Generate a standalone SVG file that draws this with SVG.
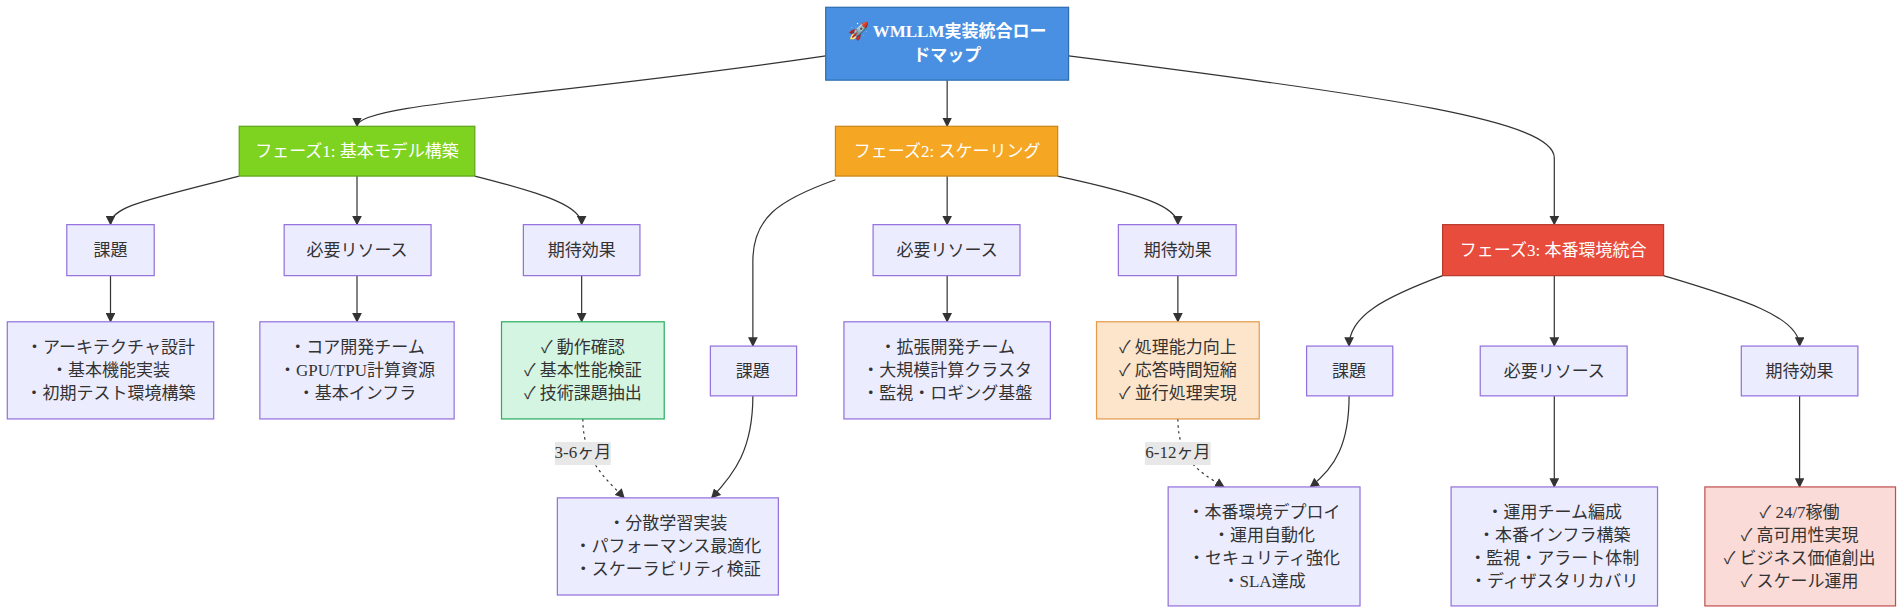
<svg xmlns="http://www.w3.org/2000/svg" width="1904" height="614" viewBox="0 0 1904 614">
<defs>
<marker id="ah" viewBox="0 0 10 10" refX="9" refY="5" markerWidth="8" markerHeight="8" orient="auto"><path d="M0,0L10,5L0,10z" fill="#333"/></marker>
<style>
text{font-family:"Liberation Serif","Noto Sans CJK JP",serif;font-size:14px;fill:#333;text-anchor:middle;dominant-baseline:central}
.n{fill:#ececff;stroke:#9370db;stroke-width:1}
.w{fill:#fff}
.e{fill:none;stroke:#333;stroke-width:1;marker-end:url(#ah)}
.d{stroke-dasharray:2 3}
</style>
</defs>
<rect width="1904" height="614" fill="#fff"/>
<g transform="scale(1.2143)">
<g id="connectors">
<path class="e" d="M680,46 C450,80 294,85 294,104"/>
<path class="e" d="M780,66 L780,104"/>
<path class="e" d="M880,46 C1150,80 1280,100 1280,130 L1280,185"/>
<path class="e" d="M197,145 C120,165 91,170 91,185"/>
<path class="e" d="M294,145 L294,185"/>
<path class="e" d="M391,145 C450,160 479,170 479,185"/>
<path class="e" d="M688,148 C640,165 620,180 620,215 L620,285"/>
<path class="e" d="M780,145 L780,185"/>
<path class="e" d="M871,145 C940,160 970,170 970,185"/>
<path class="e" d="M1188,227 C1140,245 1111,260 1111,285"/>
<path class="e" d="M1280,227 L1280,285"/>
<path class="e" d="M1370,227 C1430,245 1482,260 1482,285"/>
<path class="e" d="M91,227 L91,265"/>
<path class="e" d="M294,227 L294,265"/>
<path class="e" d="M479,227 L479,265"/>
<path class="e" d="M780,227 L780,265"/>
<path class="e" d="M970,227 L970,265"/>
<path class="e" d="M1280,326 L1280,401"/>
<path class="e" d="M1482,326 L1482,401"/>
<path class="e" d="M620,326 C620,370 605,390 586,410"/>
<path class="e" d="M1111,326 C1111,365 1100,385 1079,401"/>
<path class="e d" d="M480,345 C480,380 500,395 514,410"/>
<path class="e d" d="M970,345 C970,380 990,390 1008,401"/>
<rect x="457" y="364" width="46" height="19" fill="#e8e8e8"/><text x="480" y="373">3-6ヶ月</text>
<rect x="943" y="364" width="54" height="19" fill="#e8e8e8"/><text x="970" y="373">6-12ヶ月</text>
</g>
<g id="root"><rect x="680" y="6" width="200" height="60" fill="#4a90e2" stroke="#2c6cb0"/><text class="w" x="780" y="26" font-weight="bold">🚀 WMLLM実装統合ロー</text><text class="w" x="780" y="46" font-weight="bold">ドマップ</text></g>
<g id="p1"><rect x="197" y="104" width="194" height="41" fill="#7ed321" stroke="#5ea318"/><text class="w" x="294" y="125">フェーズ1: 基本モデル構築</text></g>
<g id="p2"><rect x="688" y="104" width="183" height="41" fill="#f5a623" stroke="#c98618"/><text class="w" x="780" y="125">フェーズ2: スケーリング</text></g>
<g id="p3"><rect x="1188" y="185" width="182" height="42" fill="#e74c3c" stroke="#b83a2c"/><text class="w" x="1279" y="206">フェーズ3: 本番環境統合</text></g>
<g id="p1c"><rect class="n" x="55" y="185" width="72" height="42"/><text x="91" y="206">課題</text></g>
<g id="p1r"><rect class="n" x="234" y="185" width="121" height="42"/><text x="294" y="206">必要リソース</text></g>
<g id="p1e"><rect class="n" x="431" y="185" width="96" height="42"/><text x="479" y="206">期待効果</text></g>
<g id="p2r"><rect class="n" x="719" y="185" width="121" height="42"/><text x="780" y="206">必要リソース</text></g>
<g id="p2e"><rect class="n" x="921" y="185" width="97" height="42"/><text x="970" y="206">期待効果</text></g>
<g id="p2c"><rect class="n" x="585" y="285" width="71" height="41"/><text x="620" y="306">課題</text></g>
<g id="p3c"><rect class="n" x="1076" y="285" width="71" height="41"/><text x="1111" y="306">課題</text></g>
<g id="p3r"><rect class="n" x="1219" y="285" width="121" height="41"/><text x="1280" y="306">必要リソース</text></g>
<g id="p3e"><rect class="n" x="1434" y="285" width="96" height="41"/><text x="1482" y="306">期待効果</text></g>
<g id="p1cd"><rect class="n" x="6" y="265" width="170" height="80"/><text x="91" y="286">・アーキテクチャ設計</text><text x="91" y="305">・基本機能実装</text><text x="91" y="324">・初期テスト環境構築</text></g>
<g id="p1rd"><rect class="n" x="214" y="265" width="160" height="80"/><text x="294" y="286">・コア開発チーム</text><text x="294" y="305">・GPU/TPU計算資源</text><text x="294" y="324">・基本インフラ</text></g>
<g id="p1ed"><rect x="413" y="265" width="134" height="80" fill="#d5f5e3" stroke="#27ae60"/><text x="480" y="286">✓ 動作確認</text><text x="480" y="305">✓ 基本性能検証</text><text x="480" y="324">✓ 技術課題抽出</text></g>
<g id="p2rd"><rect class="n" x="695" y="265" width="170" height="80"/><text x="780" y="286">・拡張開発チーム</text><text x="780" y="305">・大規模計算クラスタ</text><text x="780" y="324">・監視・ロギング基盤</text></g>
<g id="p2ed"><rect x="903" y="265" width="134" height="80" fill="#fde5cc" stroke="#e59a4a"/><text x="970" y="286">✓ 処理能力向上</text><text x="970" y="305">✓ 応答時間短縮</text><text x="970" y="324">✓ 並行処理実現</text></g>
<g id="p2cd"><rect class="n" x="459" y="410" width="182" height="80"/><text x="550" y="431">・分散学習実装</text><text x="550" y="450">・パフォーマンス最適化</text><text x="550" y="469">・スケーラビリティ検証</text></g>
<g id="p3cd"><rect class="n" x="962" y="401" width="158" height="98"/><text x="1041" y="422">・本番環境デプロイ</text><text x="1041" y="441">・運用自動化</text><text x="1041" y="460">・セキュリティ強化</text><text x="1041" y="479">・SLA達成</text></g>
<g id="p3rd"><rect class="n" x="1195" y="401" width="170" height="98"/><text x="1280" y="422">・運用チーム編成</text><text x="1280" y="441">・本番インフラ構築</text><text x="1280" y="460">・監視・アラート体制</text><text x="1280" y="479">・ディザスタリカバリ</text></g>
<g id="p3ed"><rect x="1404" y="401" width="157" height="98" fill="#fadbd8" stroke="#c0504d"/><text x="1482" y="422">✓ 24/7稼働</text><text x="1482" y="441">✓ 高可用性実現</text><text x="1482" y="460">✓ ビジネス価値創出</text><text x="1482" y="479">✓ スケール運用</text></g>
</g>
</svg>
